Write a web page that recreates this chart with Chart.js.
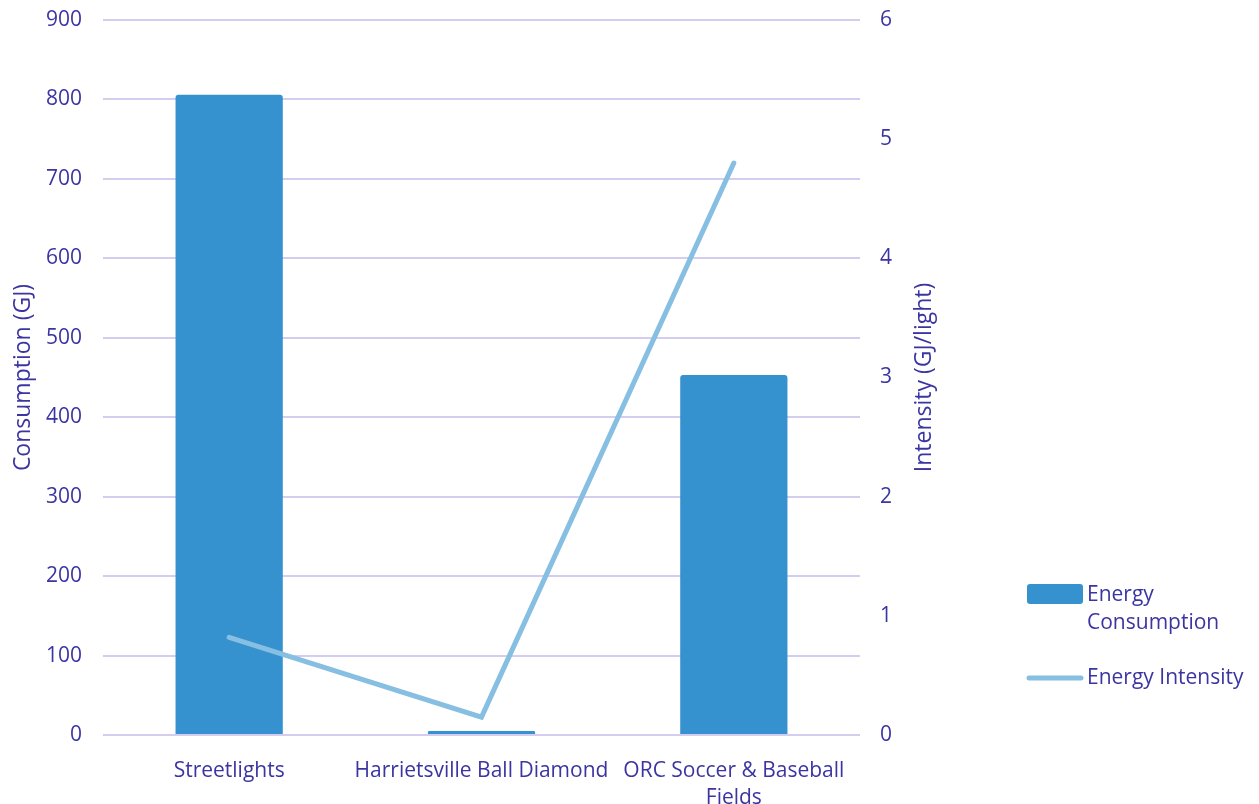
<!DOCTYPE html>
<html>
<head>
<meta charset="utf-8">
<script src="https://cdn.jsdelivr.net/npm/chart.js@4/dist/chart.umd.min.js"></script>
<style>
  html, body { margin: 0; padding: 0; background: #fff; }
  #wrap { width: 1259px; height: 804px; }
</style>
</head>
<body>
<div id="wrap"><canvas id="energyChart"></canvas></div>
<script>
    // facility data
    const categories = ['Streetlights', 'Harrietsville Ball Diamond', ['ORC Soccer & Baseball', 'Fields']];
    const consumption = [806, 5, 453];        // GJ
    const intensity = [0.82, 0.15, 4.80];     // GJ/light
    const consumptionLabel = 'Energy Consumption';
    const intensityLabel = 'Energy Intensity';
    const intensityTitle = 'Intensity (GJ/light)';

    const textColor = '#3b35a2';
    const gridColor = '#d4cdf0';
    const barColor = '#3592cf';
    const lineColor = '#86bfe2';
    const fontFamily = '"Open Sans", Lato, sans-serif';

    // keep the plot area edges where the layout padding puts them
    const noOverflow = scale => { scale.paddingTop = 0; scale.paddingBottom = 0; };

    // legend drawn at the right side, with the long label wrapped over two lines,
    // plus the right axis title reading bottom-to-top
    const sideLegend = {
        id: 'sideLegend',
        afterDraw(chart) {
            const ctx = chart.ctx;
            const area = chart.chartArea;
            ctx.save();
            ctx.font = '21px ' + fontFamily;
            ctx.textBaseline = 'middle';
            ctx.textAlign = 'left';

            // bar entry
            ctx.fillStyle = barColor;
            ctx.beginPath();
            ctx.roundRect(1027, 584, 56, 20, 3);
            ctx.fill();
            ctx.fillStyle = textColor;
            const words = consumptionLabel.split(' ');
            ctx.fillText(words[0], 1087, 595);
            ctx.fillText(words[1], 1087, 623);

            // line entry
            ctx.strokeStyle = lineColor;
            ctx.lineWidth = 5;
            ctx.lineCap = 'round';
            ctx.beginPath();
            ctx.moveTo(1029, 678);
            ctx.lineTo(1081, 678);
            ctx.stroke();
            ctx.fillText(intensityLabel, 1087, 678);

            // right axis title
            ctx.font = '23px ' + fontFamily;
            ctx.textAlign = 'center';
            ctx.translate(924, (area.top + area.bottom) / 2);
            ctx.rotate(-Math.PI / 2);
            ctx.fillText(intensityTitle, 0, 0);
            ctx.restore();
        }
    };

    let ctx = document.getElementById('energyChart');

    let energyChart = new Chart(ctx, {
        data: {
            labels: categories,
            datasets: [
                {
                    type: 'line',
                    label: intensityLabel,
                    data: intensity,
                    yAxisID: 'y1',
                    borderColor: lineColor,
                    borderWidth: 5,
                    borderCapStyle: 'round',
                    pointRadius: 0,
                    tension: 0,
                    order: 0
                },
                {
                    type: 'bar',
                    label: consumptionLabel,
                    data: consumption,
                    yAxisID: 'y',
                    backgroundColor: barColor,
                    borderRadius: { topLeft: 3, topRight: 3 },
                    borderSkipped: 'bottom',
                    categoryPercentage: 1,
                    barPercentage: 0.425,
                    order: 1
                }
            ]
        },
        options: {
            responsive: true,
            maintainAspectRatio: false,
            animation: false,
            layout: { padding: { top: 20, right: 309, left: 10, bottom: 0 } },
            plugins: {
                legend: { display: false },
                tooltip: { enabled: false }
            },
            scales: {
                x: {
                    grid: { display: false },
                    border: { display: false },
                    ticks: {
                        color: textColor,
                        font: { family: fontFamily, size: 21, lineHeight: 1.3 },
                        padding: 14,
                        maxRotation: 0,
                        autoSkip: false
                    },
                    afterFit(scale) { scale.height = 69; }
                },
                y: {
                    position: 'left',
                    min: 0,
                    max: 900,
                    ticks: {
                        stepSize: 100,
                        color: textColor,
                        font: { family: fontFamily, size: 21 },
                        padding: 21
                    },
                    grid: { color: gridColor, lineWidth: 2, drawTicks: false },
                    border: { display: false },
                    title: {
                        display: true,
                        text: 'Consumption (GJ)',
                        color: textColor,
                        font: { family: fontFamily, size: 23 },
                        padding: 0
                    },
                    afterFit(scale) { scale.width = 93; noOverflow(scale); }
                },
                y1: {
                    position: 'right',
                    min: 0,
                    max: 6,
                    ticks: {
                        stepSize: 1,
                        color: textColor,
                        font: { family: fontFamily, size: 21 },
                        padding: 20
                    },
                    grid: { display: false, drawTicks: false },
                    border: { display: false },
                    afterFit(scale) { scale.width = 90; noOverflow(scale); }
                }
            }
        },
        plugins: [sideLegend]
    });
</script>
</body>
</html>
